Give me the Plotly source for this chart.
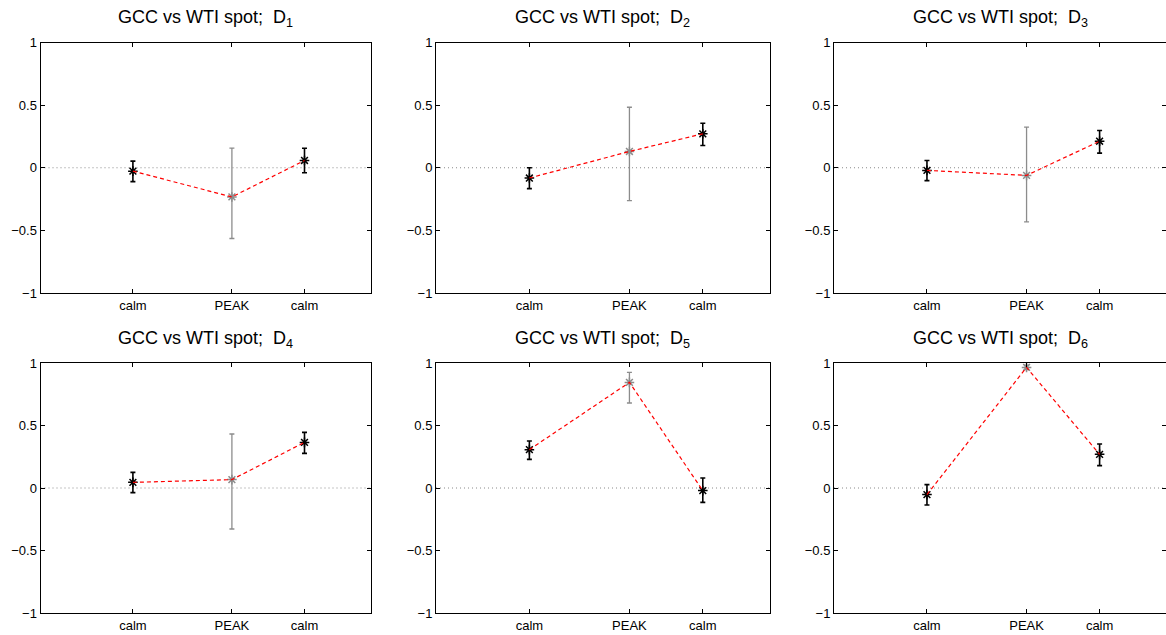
import plotly.graph_objects as go

# ---------------- data ----------------
X_POS = [2.8, 5.8, 8.0]            # x positions of the three periods
X_LABELS = ["calm", "PEAK", "calm"]
X_RANGE = [0, 10]
Y_TICKS = [-1, -0.5, 0, 0.5, 1]
Y_TICK_TEXT = ["\u22121", "\u22120.5", "0", "0.5", "1"]
PANEL_SUBS = ["1", "2", "3", "4", "5", "6"]

# estimates, lower bounds, upper bounds for each panel (calm, PEAK, calm)
d1_est = [-0.027, -0.233, 0.058]
d1_lo = [-0.111, -0.565, -0.040]
d1_hi = [0.053, 0.156, 0.156]

d2_est = [-0.082, 0.130, 0.271]
d2_lo = [-0.167, -0.263, 0.178]
d2_hi = [0.000, 0.483, 0.355]

d3_est = [-0.021, -0.061, 0.212]
d3_lo = [-0.103, -0.432, 0.117]
d3_hi = [0.058, 0.324, 0.297]

d4_est = [0.045, 0.067, 0.365]
d4_lo = [-0.037, -0.328, 0.277]
d4_hi = [0.125, 0.432, 0.445]

d5_est = [0.307, 0.845, -0.021]
d5_lo = [0.229, 0.680, -0.115]
d5_hi = [0.376, 0.925, 0.080]

d6_est = [-0.053, 0.965, 0.269]
d6_lo = [-0.136, 0.948, 0.179]
d6_hi = [0.027, 0.982, 0.352]

ESTS = [d1_est, d2_est, d3_est, d4_est, d5_est, d6_est]
LOS = [d1_lo, d2_lo, d3_lo, d4_lo, d5_lo, d6_lo]
HIS = [d1_hi, d2_hi, d3_hi, d4_hi, d5_hi, d6_hi]

# ---------------- layout geometry ----------------
W, H = 1166, 635
COLS_PX = [(40.5, 370.5), (436.0, 769.5), (834.0, 1166.0)]
ROWS_PX = [(42.5, 293.0), (363.0, 613.0)]

FONT = "Liberation Sans, Arial, Helvetica, sans-serif"
BLACK = "#000000"
GRAY = "#8c8c8c"

fig = go.Figure()
annotations = []
layout_axes = {}

for k in range(6):
    r, c = divmod(k, 3)
    n = k + 1
    xa = "x" if n == 1 else f"x{n}"
    ya = "y" if n == 1 else f"y{n}"
    x0, x1 = COLS_PX[c]
    y0, y1 = ROWS_PX[r]
    xdom = [x0 / W, x1 / W]
    ydom = [1 - y1 / H, 1 - y0 / H]

    est, lo, hi = ESTS[k], LOS[k], HIS[k]
    plus = [h - e for h, e in zip(hi, est)]
    minus = [e - l for e, l in zip(est, lo)]

    # zero reference line
    fig.add_trace(go.Scatter(
        x=X_RANGE, y=[0, 0], mode="lines", xaxis=xa, yaxis=ya,
        line=dict(color="#8a8a8a", width=1, dash="1px,3px"),
        showlegend=False, hoverinfo="skip"))

    # calm points (black)
    idx_calm = [0, 2]
    fig.add_trace(go.Scatter(
        x=[X_POS[i] for i in idx_calm], y=[est[i] for i in idx_calm],
        mode="markers", xaxis=xa, yaxis=ya,
        marker=dict(symbol="asterisk-open", size=8, color=BLACK,
                    line=dict(color=BLACK, width=1.5)),
        error_y=dict(type="data", symmetric=False,
                     array=[plus[i] for i in idx_calm],
                     arrayminus=[minus[i] for i in idx_calm],
                     color=BLACK, thickness=1.6, width=2.5),
        showlegend=False))

    # PEAK point (gray)
    fig.add_trace(go.Scatter(
        x=[X_POS[1]], y=[est[1]], mode="markers", xaxis=xa, yaxis=ya,
        marker=dict(symbol="asterisk-open", size=8, color=GRAY,
                    line=dict(color=GRAY, width=1.5)),
        error_y=dict(type="data", symmetric=False,
                     array=[plus[1]], arrayminus=[minus[1]],
                     color=GRAY, thickness=1.3, width=2.5),
        showlegend=False))

    # red dashed connecting line
    fig.add_trace(go.Scatter(
        x=X_POS, y=est, mode="lines", xaxis=xa, yaxis=ya,
        line=dict(color="#ff0000", width=1.2, dash="4px,3px"),
        showlegend=False))

    axis_common = dict(
        showline=True, linecolor=BLACK, linewidth=1, mirror="ticks",
        ticks="inside", ticklen=4, tickcolor=BLACK, tickwidth=1,
        showgrid=False, zeroline=False, automargin=False,
        tickfont=dict(family=FONT, size=13, color=BLACK),
    )
    layout_axes["xaxis" if n == 1 else f"xaxis{n}"] = dict(
        axis_common, domain=xdom, range=X_RANGE, anchor=ya,
        tickmode="array", tickvals=X_POS, ticktext=X_LABELS)
    layout_axes["yaxis" if n == 1 else f"yaxis{n}"] = dict(
        axis_common, domain=ydom, range=[-1, 1], anchor=xa,
        tickmode="array", tickvals=Y_TICKS, ticktext=Y_TICK_TEXT)

    annotations.append(dict(
        text=f"GCC vs WTI spot;\u00a0 D<sub>{PANEL_SUBS[k]}</sub>",
        x=(xdom[0] + xdom[1]) / 2, y=ydom[1], xref="paper", yref="paper",
        xanchor="center", yanchor="bottom", yshift=10, showarrow=False,
        font=dict(family=FONT, size=18, color=BLACK)))

fig.update_layout(
    width=W, height=H, autosize=False,
    margin=dict(l=0, r=0, t=0, b=0, autoexpand=False),
    paper_bgcolor="white", plot_bgcolor="white",
    showlegend=False,
    annotations=annotations,
    **layout_axes,
)

fig.write_html("out.html", config={"displayModeBar": False},
               post_script="document.body.style.margin='0';")
